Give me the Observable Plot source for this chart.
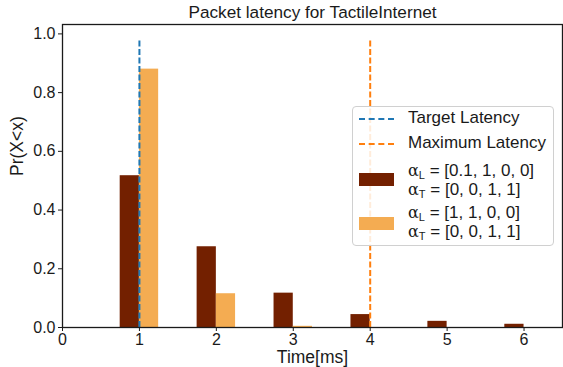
<!DOCTYPE html>
<html>
<head>
<meta charset="utf-8">
<script src="https://cdn.jsdelivr.net/npm/d3@7"></script>
<script src="https://cdn.jsdelivr.net/npm/@observablehq/plot@0.6"></script>
<style>
  html, body { margin: 0; padding: 0; background: #fff; }
  #wrap { position: relative; width: 563px; height: 367px; font-family: "Liberation Sans", Arial, sans-serif; }
  #legend { position: absolute; left: 352px; top: 106px; width: 202px; height: 140px;
    border: 1px solid #d0d0d0; border-radius: 4px; background: rgba(255,255,255,0.85);
    font-size: 17px; color: #1a1a1a; box-sizing: border-box; }
  .row { position: absolute; left: 0; width: 100%; }
  .sw-line { position: absolute; left: 6px; width: 35px; height: 0; border-top: 2px dashed; }
  .sw-box { position: absolute; left: 6px; width: 35px; height: 13px; }
  .lbl { position: absolute; left: 55px; white-space: nowrap; line-height: 19px; }
  .a { font-family: "DejaVu Serif", serif; font-size: 16px; }
  sub { font-size: 11px; vertical-align: -3px; line-height: 0; }
</style>
</head>
<body>
<div id="wrap"></div>
<script>
const times = [1, 2, 3, 4, 5, 6];
const seriesDark = [0.517, 0.275, 0.117, 0.044, 0.021, 0.011];
const seriesLight = [0.880, 0.115, 0.004, 0, 0, 0];
const targetLatency = 1;
const maximumLatency = 4;
const lineTop = 0.98;
const yTicks = [0, 0.2, 0.4, 0.6, 0.8, 1.0];
const xTicks = [0, 1, 2, 3, 4, 5, 6];
const darkColor = "#732000";
const lightColor = "#f4ac52";

const barWidth = 0.25;
const darkData = times.map((t, i) => ({t, v: seriesDark[i]}));
const lightData = times.map((t, i) => ({t, v: seriesLight[i]}));

const chart = Plot.plot({
  width: 563,
  height: 367,
  marginLeft: 62,
  marginRight: 1,
  marginTop: 24,
  marginBottom: 40,
  style: {fontFamily: "Liberation Sans, Arial, sans-serif", color: "#1a1a1a", background: "white"},
  x: {domain: [0, 6.5]},
  y: {domain: [0, 1.032]},
  marks: [
    Plot.rectY(darkData, {x1: d => d.t - barWidth, x2: d => d.t, y: "v", fill: darkColor}),
    Plot.rectY(lightData, {x1: d => d.t, x2: d => d.t + barWidth, y: "v", fill: lightColor}),
    Plot.ruleX([targetLatency], {y1: 0, y2: lineTop, stroke: "#1f77b4", strokeWidth: 2, strokeDasharray: "6,2.5"}),
    Plot.ruleX([maximumLatency], {y1: 0, y2: lineTop, stroke: "#ff7f0e", strokeWidth: 2, strokeDasharray: "6,2.5"}),
    Plot.frame({stroke: "#1a1a1a", strokeWidth: 1.3}),
    Plot.axisY({ticks: yTicks, tickFormat: d3.format(".1f"), tickSize: 4, tickPadding: 3, fontSize: 16, label: null}),
    Plot.axisX({ticks: xTicks, tickFormat: d3.format("d"), tickSize: 4, tickPadding: 2, fontSize: 16, label: null}),
    Plot.text(["Pr(X<x)"], {frameAnchor: "left", rotate: -90, dx: -45, lineAnchor: "middle", fontSize: 17.5, fill: "#1a1a1a"}),
    Plot.text(["Time[ms]"], {frameAnchor: "bottom", dy: 30, lineAnchor: "middle", fontSize: 17.5, fill: "#1a1a1a"}),
    Plot.text(["Packet latency for TactileInternet"], {frameAnchor: "top", dy: -12, lineAnchor: "middle", fontSize: 17.2, fill: "#1a1a1a"})
  ]
});
const wrap = document.getElementById("wrap");
wrap.appendChild(chart);

const legend = document.createElement("div");
legend.id = "legend";
legend.innerHTML = `
  <div class="row" style="top:0">
    <div class="sw-line" style="top:11px;border-color:#1f77b4"></div>
    <div class="lbl" style="top:1px">Target Latency</div>
  </div>
  <div class="row" style="top:0">
    <div class="sw-line" style="top:36px;border-color:#ff7f0e"></div>
    <div class="lbl" style="top:26px">Maximum Latency</div>
  </div>
  <div class="row" style="top:0">
    <div class="sw-box" style="top:66px;background:${darkColor}"></div>
    <div class="lbl" style="top:54px"><span class="a">α</span><sub>L</sub> = [0.1, 1, 0, 0]<br><span class="a">α</span><sub>T</sub> = [0, 0, 1, 1]</div>
  </div>
  <div class="row" style="top:0">
    <div class="sw-box" style="top:110px;background:${lightColor}"></div>
    <div class="lbl" style="top:96px"><span class="a">α</span><sub>L</sub> = [1, 1, 0, 0]<br><span class="a">α</span><sub>T</sub> = [0, 0, 1, 1]</div>
  </div>`;
wrap.appendChild(legend);
</script>
</body>
</html>
